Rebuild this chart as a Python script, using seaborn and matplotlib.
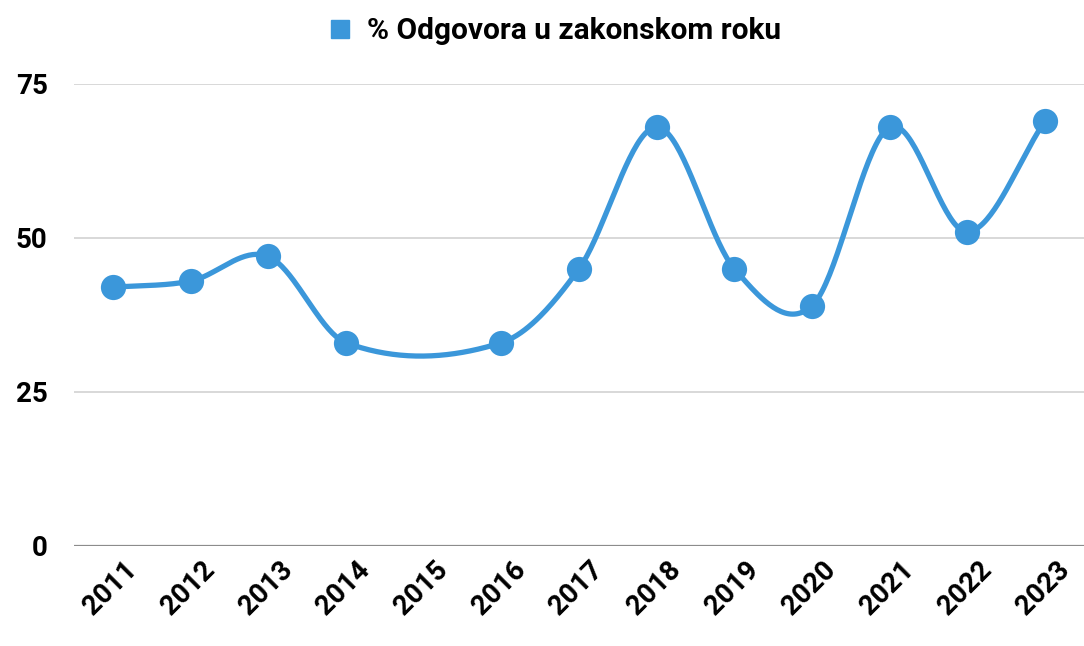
"""Line chart: share of answers given within the legal deadline, 2011-2023."""
import matplotlib
matplotlib.use("Agg")
import matplotlib.pyplot as plt
import matplotlib.transforms as mtransforms
from matplotlib.lines import Line2D
import numpy as np
import pandas as pd
import seaborn as sns

YEARS = [2011, 2012, 2013, 2014, 2015, 2016, 2017, 2018, 2019, 2020, 2021, 2022, 2023]
# 2015 has no value; the curve just runs across the gap
VALUES = [42, 43, 47, 33, None, 33, 45, 68, 45, 39, 68, 51, 69]
Y_TICKS = [0, 25, 50, 75]
SERIES = "% Odgovora u zakonskom roku"
BLUE = "#3b97da"


def smooth_curve(x, y, steps=40):
    """Cardinal (Catmull-Rom) spline through the known points."""
    x = np.asarray(x, float)
    y = np.asarray(y, float)
    n = len(x)
    m = np.zeros(n)
    for i in range(n):
        lo, hi = max(i - 1, 0), min(i + 1, n - 1)
        m[i] = (y[hi] - y[lo]) / (x[hi] - x[lo])
    xs, ys = [], []
    for i in range(n - 1):
        h = x[i + 1] - x[i]
        t = np.linspace(0, 1, steps, endpoint=False)
        h00 = 2 * t**3 - 3 * t**2 + 1
        h10 = t**3 - 2 * t**2 + t
        h01 = -2 * t**3 + 3 * t**2
        h11 = t**3 - t**2
        xs.append(x[i] + t * h)
        ys.append(h00 * y[i] + h10 * h * m[i] + h01 * y[i + 1] + h11 * h * m[i + 1])
    xs.append([x[-1]])
    ys.append([y[-1]])
    return np.concatenate(xs), np.concatenate(ys)


def main():
    sns.set_theme(style="white")
    plt.rcParams["font.family"] = ["Roboto", "DejaVu Sans"]
    plt.rcParams["font.weight"] = "bold"
    plt.rcParams["text.color"] = "black"

    df = pd.DataFrame({"year": YEARS, "value": VALUES})
    df["pos"] = range(len(df))
    known = df.dropna()
    cx, cy = smooth_curve(known["pos"], known["value"])
    curve = pd.DataFrame({"pos": cx, "value": cy})

    fig = plt.figure(figsize=(10.84, 6.46), dpi=100)
    ax = fig.add_axes([0.0683, 0.1548, 0.9317, 0.7152])

    for v in Y_TICKS[1:]:
        ax.axhline(v, color="#d6d6d6", lw=1.3, zorder=0)
    ax.axhline(0, color="#8c8c8c", lw=1.6, zorder=0)

    sns.lineplot(data=curve, x="pos", y="value", ax=ax, color=BLUE, lw=3.8,
                 sort=False, estimator=None)
    sns.scatterplot(data=known, x="pos", y="value", ax=ax, color=BLUE, s=330,
                    linewidth=0, zorder=3)

    ax.set_xlim(-0.5, len(YEARS) - 0.5)
    ax.set_ylim(0, 75)
    ax.set_xticks(df["pos"])
    ax.set_xticklabels([str(y) for y in YEARS], rotation=45, ha="right",
                       va="center", rotation_mode="anchor")
    ax.set_yticks(Y_TICKS)
    ax.set_yticklabels([str(v) for v in Y_TICKS])
    ax.tick_params(axis="both", length=0, labelsize=20, labelcolor="black")
    ax.tick_params(axis="y", pad=19)
    ax.tick_params(axis="x", pad=14)
    shift = mtransforms.ScaledTranslation(0.2, 0, fig.dpi_scale_trans)
    for lab in ax.get_xticklabels():
        lab.set_transform(lab.get_transform() + shift)
        lab.set_fontweight("bold")
    for lab in ax.get_yticklabels():
        lab.set_fontweight("bold")
    ax.set(xlabel="", ylabel="")
    sns.despine(ax=ax, left=True, bottom=True)

    handle = Line2D([], [], marker="s", color=BLUE, lw=0, markersize=13)
    fig.legend([handle], [SERIES], loc="center", bbox_to_anchor=(0.51, 0.952),
               frameon=False, prop={"size": 21.5, "weight": "bold"},
               handletextpad=0.4, handlelength=1.0, labelcolor="black")

    fig.savefig("out.png", dpi=100)
    plt.close(fig)


if __name__ == "__main__":
    main()
